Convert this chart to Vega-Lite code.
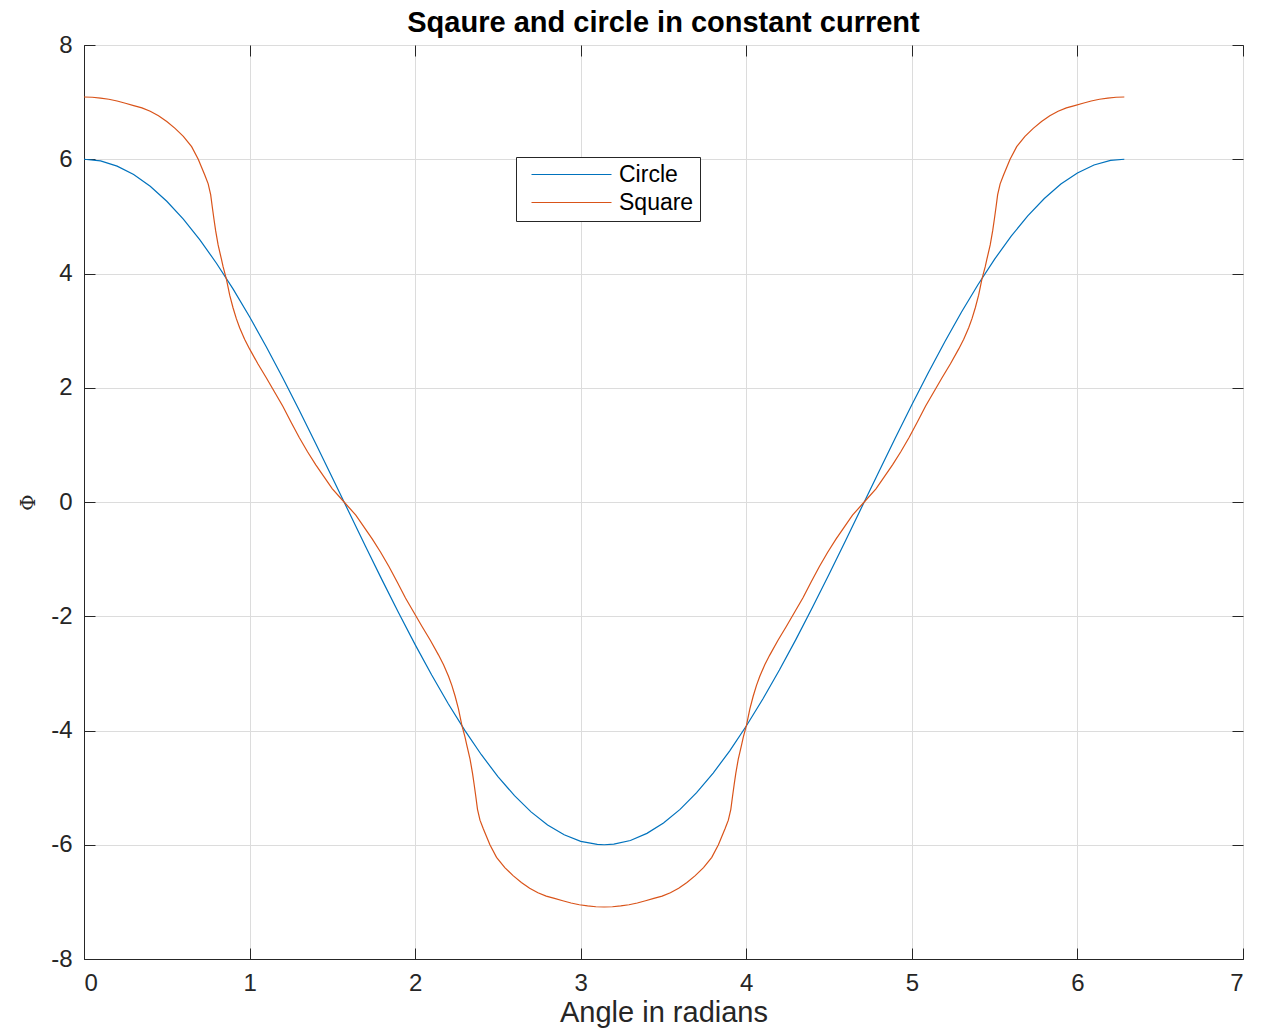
{
  "$schema": "https://vega.github.io/schema/vega-lite/v6.json",
  "width": 1159,
  "height": 914,
  "autosize": {"type": "none"},
  "padding": {"left": 84, "top": 45, "right": 18, "bottom": 73},
  "background": "white",
  "title": {"text": "Sqaure and circle in constant current", "font": "Liberation Sans", "fontSize": 29, "fontWeight": "bold", "color": "#000000", "offset": -5, "anchor": "middle"},
  "config": {
    "view": {"stroke": "#262626", "strokeWidth": 1},
    "axis": {
      "gridColor": "#dcdcdc", "gridOpacity": 1, "gridWidth": 1,
      "domainColor": "#262626", "domainWidth": 1,
      "tickColor": "#262626", "tickSize": -11, "tickWidth": 1,
      "labelColor": "#262626", "labelFont": "Liberation Sans", "labelFontSize": 24,
      "titleColor": "#262626", "titleFont": "Liberation Sans", "titleFontSize": 29, "titleFontWeight": "normal"
    }
  },
  "datasets": {
    "curves": [
      {"series": "Circle", "angle": 0, "phi": 6},
      {"series": "Circle", "angle": 0.1, "phi": 5.970},
      {"series": "Circle", "angle": 0.2, "phi": 5.880},
      {"series": "Circle", "angle": 0.3, "phi": 5.732},
      {"series": "Circle", "angle": 0.4, "phi": 5.526},
      {"series": "Circle", "angle": 0.5, "phi": 5.265},
      {"series": "Circle", "angle": 0.6, "phi": 4.952},
      {"series": "Circle", "angle": 0.7, "phi": 4.589},
      {"series": "Circle", "angle": 0.8, "phi": 4.180},
      {"series": "Circle", "angle": 0.9, "phi": 3.730},
      {"series": "Circle", "angle": 1.0, "phi": 3.242},
      {"series": "Circle", "angle": 1.1, "phi": 2.722},
      {"series": "Circle", "angle": 1.2, "phi": 2.174},
      {"series": "Circle", "angle": 1.3, "phi": 1.605},
      {"series": "Circle", "angle": 1.4, "phi": 1.020},
      {"series": "Circle", "angle": 1.5, "phi": 0.424},
      {"series": "Circle", "angle": 1.6, "phi": -0.175},
      {"series": "Circle", "angle": 1.7, "phi": -0.773},
      {"series": "Circle", "angle": 1.8, "phi": -1.363},
      {"series": "Circle", "angle": 1.9, "phi": -1.940},
      {"series": "Circle", "angle": 2.0, "phi": -2.497},
      {"series": "Circle", "angle": 2.1, "phi": -3.029},
      {"series": "Circle", "angle": 2.2, "phi": -3.531},
      {"series": "Circle", "angle": 2.3, "phi": -3.998},
      {"series": "Circle", "angle": 2.4, "phi": -4.424},
      {"series": "Circle", "angle": 2.5, "phi": -4.807},
      {"series": "Circle", "angle": 2.6, "phi": -5.141},
      {"series": "Circle", "angle": 2.7, "phi": -5.424},
      {"series": "Circle", "angle": 2.8, "phi": -5.653},
      {"series": "Circle", "angle": 2.9, "phi": -5.826},
      {"series": "Circle", "angle": 3.0, "phi": -5.940},
      {"series": "Circle", "angle": 3.1, "phi": -5.995},
      {"series": "Circle", "angle": 3.1416, "phi": -6.0},
      {"series": "Circle", "angle": 3.2, "phi": -5.990},
      {"series": "Circle", "angle": 3.3, "phi": -5.925},
      {"series": "Circle", "angle": 3.4, "phi": -5.801},
      {"series": "Circle", "angle": 3.5, "phi": -5.619},
      {"series": "Circle", "angle": 3.6, "phi": -5.381},
      {"series": "Circle", "angle": 3.7, "phi": -5.089},
      {"series": "Circle", "angle": 3.8, "phi": -4.746},
      {"series": "Circle", "angle": 3.9, "phi": -4.356},
      {"series": "Circle", "angle": 4.0, "phi": -3.922},
      {"series": "Circle", "angle": 4.1, "phi": -3.449},
      {"series": "Circle", "angle": 4.2, "phi": -2.942},
      {"series": "Circle", "angle": 4.3, "phi": -2.405},
      {"series": "Circle", "angle": 4.4, "phi": -1.844},
      {"series": "Circle", "angle": 4.5, "phi": -1.265},
      {"series": "Circle", "angle": 4.6, "phi": -0.673},
      {"series": "Circle", "angle": 4.7, "phi": -0.074},
      {"series": "Circle", "angle": 4.8, "phi": 0.525},
      {"series": "Circle", "angle": 4.9, "phi": 1.119},
      {"series": "Circle", "angle": 5.0, "phi": 1.702},
      {"series": "Circle", "angle": 5.1, "phi": 2.268},
      {"series": "Circle", "angle": 5.2, "phi": 2.811},
      {"series": "Circle", "angle": 5.3, "phi": 3.326},
      {"series": "Circle", "angle": 5.4, "phi": 3.808},
      {"series": "Circle", "angle": 5.5, "phi": 4.252},
      {"series": "Circle", "angle": 5.6, "phi": 4.653},
      {"series": "Circle", "angle": 5.7, "phi": 5.008},
      {"series": "Circle", "angle": 5.8, "phi": 5.313},
      {"series": "Circle", "angle": 5.9, "phi": 5.565},
      {"series": "Circle", "angle": 6.0, "phi": 5.761},
      {"series": "Circle", "angle": 6.1, "phi": 5.900},
      {"series": "Circle", "angle": 6.2, "phi": 5.979},
      {"series": "Circle", "angle": 6.2832, "phi": 6.0},
      {"series": "Square", "angle": 0, "phi": 7.09},
      {"series": "Square", "angle": 0.05, "phi": 7.085},
      {"series": "Square", "angle": 0.1, "phi": 7.07},
      {"series": "Square", "angle": 0.15, "phi": 7.05},
      {"series": "Square", "angle": 0.2, "phi": 7.02},
      {"series": "Square", "angle": 0.25, "phi": 6.98},
      {"series": "Square", "angle": 0.3, "phi": 6.94},
      {"series": "Square", "angle": 0.35, "phi": 6.9},
      {"series": "Square", "angle": 0.4, "phi": 6.84},
      {"series": "Square", "angle": 0.45, "phi": 6.76},
      {"series": "Square", "angle": 0.5, "phi": 6.66},
      {"series": "Square", "angle": 0.55, "phi": 6.54},
      {"series": "Square", "angle": 0.6, "phi": 6.4},
      {"series": "Square", "angle": 0.65, "phi": 6.22},
      {"series": "Square", "angle": 0.69, "phi": 6.0},
      {"series": "Square", "angle": 0.71, "phi": 5.86},
      {"series": "Square", "angle": 0.73, "phi": 5.72},
      {"series": "Square", "angle": 0.75, "phi": 5.57},
      {"series": "Square", "angle": 0.765, "phi": 5.38},
      {"series": "Square", "angle": 0.775, "phi": 5.16},
      {"series": "Square", "angle": 0.785, "phi": 4.95},
      {"series": "Square", "angle": 0.795, "phi": 4.75},
      {"series": "Square", "angle": 0.81, "phi": 4.5},
      {"series": "Square", "angle": 0.83, "phi": 4.25},
      {"series": "Square", "angle": 0.84, "phi": 4.12},
      {"series": "Square", "angle": 0.86, "phi": 3.9},
      {"series": "Square", "angle": 0.88, "phi": 3.62},
      {"series": "Square", "angle": 0.9, "phi": 3.4},
      {"series": "Square", "angle": 0.92, "phi": 3.21},
      {"series": "Square", "angle": 0.94, "phi": 3.05},
      {"series": "Square", "angle": 0.97, "phi": 2.85},
      {"series": "Square", "angle": 1.0, "phi": 2.68},
      {"series": "Square", "angle": 1.05, "phi": 2.42},
      {"series": "Square", "angle": 1.1, "phi": 2.18},
      {"series": "Square", "angle": 1.15, "phi": 1.93},
      {"series": "Square", "angle": 1.2, "phi": 1.68},
      {"series": "Square", "angle": 1.25, "phi": 1.4},
      {"series": "Square", "angle": 1.3, "phi": 1.13},
      {"series": "Square", "angle": 1.35, "phi": 0.88},
      {"series": "Square", "angle": 1.4, "phi": 0.65},
      {"series": "Square", "angle": 1.45, "phi": 0.44},
      {"series": "Square", "angle": 1.5, "phi": 0.23},
      {"series": "Square", "angle": 1.5708, "phi": 0},
      {"series": "Square", "angle": 1.6416, "phi": -0.23},
      {"series": "Square", "angle": 1.6916, "phi": -0.44},
      {"series": "Square", "angle": 1.7416, "phi": -0.65},
      {"series": "Square", "angle": 1.7916, "phi": -0.88},
      {"series": "Square", "angle": 1.8416, "phi": -1.13},
      {"series": "Square", "angle": 1.8916, "phi": -1.4},
      {"series": "Square", "angle": 1.9416, "phi": -1.68},
      {"series": "Square", "angle": 1.9916, "phi": -1.93},
      {"series": "Square", "angle": 2.0416, "phi": -2.18},
      {"series": "Square", "angle": 2.0916, "phi": -2.42},
      {"series": "Square", "angle": 2.1416, "phi": -2.68},
      {"series": "Square", "angle": 2.1716, "phi": -2.85},
      {"series": "Square", "angle": 2.2016, "phi": -3.05},
      {"series": "Square", "angle": 2.2216, "phi": -3.21},
      {"series": "Square", "angle": 2.2416, "phi": -3.4},
      {"series": "Square", "angle": 2.2616, "phi": -3.62},
      {"series": "Square", "angle": 2.2816, "phi": -3.9},
      {"series": "Square", "angle": 2.3016, "phi": -4.12},
      {"series": "Square", "angle": 2.3116, "phi": -4.25},
      {"series": "Square", "angle": 2.3316, "phi": -4.5},
      {"series": "Square", "angle": 2.3466, "phi": -4.75},
      {"series": "Square", "angle": 2.3566, "phi": -4.95},
      {"series": "Square", "angle": 2.3666, "phi": -5.16},
      {"series": "Square", "angle": 2.3766, "phi": -5.38},
      {"series": "Square", "angle": 2.3916, "phi": -5.57},
      {"series": "Square", "angle": 2.4116, "phi": -5.72},
      {"series": "Square", "angle": 2.4316, "phi": -5.86},
      {"series": "Square", "angle": 2.4516, "phi": -6.0},
      {"series": "Square", "angle": 2.4916, "phi": -6.22},
      {"series": "Square", "angle": 2.5416, "phi": -6.4},
      {"series": "Square", "angle": 2.5916, "phi": -6.54},
      {"series": "Square", "angle": 2.6416, "phi": -6.66},
      {"series": "Square", "angle": 2.6916, "phi": -6.76},
      {"series": "Square", "angle": 2.7416, "phi": -6.84},
      {"series": "Square", "angle": 2.7916, "phi": -6.9},
      {"series": "Square", "angle": 2.8416, "phi": -6.94},
      {"series": "Square", "angle": 2.8916, "phi": -6.98},
      {"series": "Square", "angle": 2.9416, "phi": -7.02},
      {"series": "Square", "angle": 2.9916, "phi": -7.05},
      {"series": "Square", "angle": 3.0416, "phi": -7.07},
      {"series": "Square", "angle": 3.0916, "phi": -7.085},
      {"series": "Square", "angle": 3.1416, "phi": -7.09},
      {"series": "Square", "angle": 3.1916, "phi": -7.085},
      {"series": "Square", "angle": 3.2416, "phi": -7.07},
      {"series": "Square", "angle": 3.2916, "phi": -7.05},
      {"series": "Square", "angle": 3.3416, "phi": -7.02},
      {"series": "Square", "angle": 3.3916, "phi": -6.98},
      {"series": "Square", "angle": 3.4416, "phi": -6.94},
      {"series": "Square", "angle": 3.4916, "phi": -6.9},
      {"series": "Square", "angle": 3.5416, "phi": -6.84},
      {"series": "Square", "angle": 3.5916, "phi": -6.76},
      {"series": "Square", "angle": 3.6416, "phi": -6.66},
      {"series": "Square", "angle": 3.6916, "phi": -6.54},
      {"series": "Square", "angle": 3.7416, "phi": -6.4},
      {"series": "Square", "angle": 3.7916, "phi": -6.22},
      {"series": "Square", "angle": 3.8316, "phi": -6.0},
      {"series": "Square", "angle": 3.8516, "phi": -5.86},
      {"series": "Square", "angle": 3.8716, "phi": -5.72},
      {"series": "Square", "angle": 3.8916, "phi": -5.57},
      {"series": "Square", "angle": 3.9066, "phi": -5.38},
      {"series": "Square", "angle": 3.9166, "phi": -5.16},
      {"series": "Square", "angle": 3.9266, "phi": -4.95},
      {"series": "Square", "angle": 3.9366, "phi": -4.75},
      {"series": "Square", "angle": 3.9516, "phi": -4.5},
      {"series": "Square", "angle": 3.9716, "phi": -4.25},
      {"series": "Square", "angle": 3.9816, "phi": -4.12},
      {"series": "Square", "angle": 4.0016, "phi": -3.9},
      {"series": "Square", "angle": 4.0216, "phi": -3.62},
      {"series": "Square", "angle": 4.0416, "phi": -3.4},
      {"series": "Square", "angle": 4.0616, "phi": -3.21},
      {"series": "Square", "angle": 4.0816, "phi": -3.05},
      {"series": "Square", "angle": 4.1116, "phi": -2.85},
      {"series": "Square", "angle": 4.1416, "phi": -2.68},
      {"series": "Square", "angle": 4.1916, "phi": -2.42},
      {"series": "Square", "angle": 4.2416, "phi": -2.18},
      {"series": "Square", "angle": 4.2916, "phi": -1.93},
      {"series": "Square", "angle": 4.3416, "phi": -1.68},
      {"series": "Square", "angle": 4.3916, "phi": -1.4},
      {"series": "Square", "angle": 4.4416, "phi": -1.13},
      {"series": "Square", "angle": 4.4916, "phi": -0.88},
      {"series": "Square", "angle": 4.5416, "phi": -0.65},
      {"series": "Square", "angle": 4.5916, "phi": -0.44},
      {"series": "Square", "angle": 4.6416, "phi": -0.23},
      {"series": "Square", "angle": 4.7124, "phi": 0},
      {"series": "Square", "angle": 4.7832, "phi": 0.23},
      {"series": "Square", "angle": 4.8332, "phi": 0.44},
      {"series": "Square", "angle": 4.8832, "phi": 0.65},
      {"series": "Square", "angle": 4.9332, "phi": 0.88},
      {"series": "Square", "angle": 4.9832, "phi": 1.13},
      {"series": "Square", "angle": 5.0332, "phi": 1.4},
      {"series": "Square", "angle": 5.0832, "phi": 1.68},
      {"series": "Square", "angle": 5.1332, "phi": 1.93},
      {"series": "Square", "angle": 5.1832, "phi": 2.18},
      {"series": "Square", "angle": 5.2332, "phi": 2.42},
      {"series": "Square", "angle": 5.2832, "phi": 2.68},
      {"series": "Square", "angle": 5.3132, "phi": 2.85},
      {"series": "Square", "angle": 5.3432, "phi": 3.05},
      {"series": "Square", "angle": 5.3632, "phi": 3.21},
      {"series": "Square", "angle": 5.3832, "phi": 3.4},
      {"series": "Square", "angle": 5.4032, "phi": 3.62},
      {"series": "Square", "angle": 5.4232, "phi": 3.9},
      {"series": "Square", "angle": 5.4432, "phi": 4.12},
      {"series": "Square", "angle": 5.4532, "phi": 4.25},
      {"series": "Square", "angle": 5.4732, "phi": 4.5},
      {"series": "Square", "angle": 5.4882, "phi": 4.75},
      {"series": "Square", "angle": 5.4982, "phi": 4.95},
      {"series": "Square", "angle": 5.5082, "phi": 5.16},
      {"series": "Square", "angle": 5.5182, "phi": 5.38},
      {"series": "Square", "angle": 5.5332, "phi": 5.57},
      {"series": "Square", "angle": 5.5532, "phi": 5.72},
      {"series": "Square", "angle": 5.5732, "phi": 5.86},
      {"series": "Square", "angle": 5.5932, "phi": 6.0},
      {"series": "Square", "angle": 5.6332, "phi": 6.22},
      {"series": "Square", "angle": 5.6832, "phi": 6.4},
      {"series": "Square", "angle": 5.7332, "phi": 6.54},
      {"series": "Square", "angle": 5.7832, "phi": 6.66},
      {"series": "Square", "angle": 5.8332, "phi": 6.76},
      {"series": "Square", "angle": 5.8832, "phi": 6.84},
      {"series": "Square", "angle": 5.9332, "phi": 6.9},
      {"series": "Square", "angle": 5.9832, "phi": 6.94},
      {"series": "Square", "angle": 6.0332, "phi": 6.98},
      {"series": "Square", "angle": 6.0832, "phi": 7.02},
      {"series": "Square", "angle": 6.1332, "phi": 7.05},
      {"series": "Square", "angle": 6.1832, "phi": 7.07},
      {"series": "Square", "angle": 6.2332, "phi": 7.085},
      {"series": "Square", "angle": 6.2832, "phi": 7.09}
    ]
  },
  "data": {"name": "curves"},
  "layer": [
    {
      "mark": {"type": "line", "strokeWidth": 1.2, "clip": true},
      "encoding": {
        "x": {"field": "angle", "type": "quantitative", "scale": {"domain": [0, 7], "nice": false, "zero": false},
              "axis": {"orient": "bottom", "title": "Angle in radians", "values": [0, 1, 2, 3, 4, 5, 6, 7], "labelPadding": 23, "titlePadding": 3, "grid": true}},
        "y": {"field": "phi", "type": "quantitative", "scale": {"domain": [-8, 8], "nice": false, "zero": false},
              "axis": {"orient": "left", "title": "Φ", "values": [-8, -6, -4, -2, 0, 2, 4, 6, 8], "labelExpr": "replace(datum.label, '−', '-')", "labelPadding": 23, "titleFont": "DejaVu Serif", "titleFontSize": 20, "titlePadding": 12, "grid": true}},
        "color": {"field": "series", "type": "nominal", "scale": {"domain": ["Circle", "Square"], "range": ["#0072BD", "#D95319"]},
                  "legend": {"title": null, "orient": "none", "legendX": 432, "legendY": 112, "fillColor": "white", "strokeColor": "#262626", "padding": 6,
                             "labelFont": "Liberation Sans", "labelFontSize": 23, "labelColor": "#000000", "labelOffset": 36, "symbolOffset": 38,
                             "symbolType": "M-8,0H8", "symbolSize": 100, "symbolStrokeWidth": 1, "rowPadding": 4,
                             "encode": {"symbols": {"update": {"stroke": {"scale": "color", "field": "value"}, "fill": {"value": "transparent"}}}}}}
      }
    },
    {
      "mark": {"type": "line", "opacity": 0},
      "encoding": {
        "x": {"field": "angle", "type": "quantitative", "scale": {"domain": [0, 7], "nice": false, "zero": false},
              "axis": {"orient": "top", "title": null, "labels": false, "grid": false, "domain": false, "values": [0, 1, 2, 3, 4, 5, 6, 7]}},
        "y": {"field": "phi", "type": "quantitative", "scale": {"domain": [-8, 8], "nice": false, "zero": false},
              "axis": {"orient": "right", "title": null, "labels": false, "grid": false, "domain": false, "values": [-8, -6, -4, -2, 0, 2, 4, 6, 8]}}
      }
    }
  ],
  "resolve": {"axis": {"x": "independent", "y": "independent"}}
}
